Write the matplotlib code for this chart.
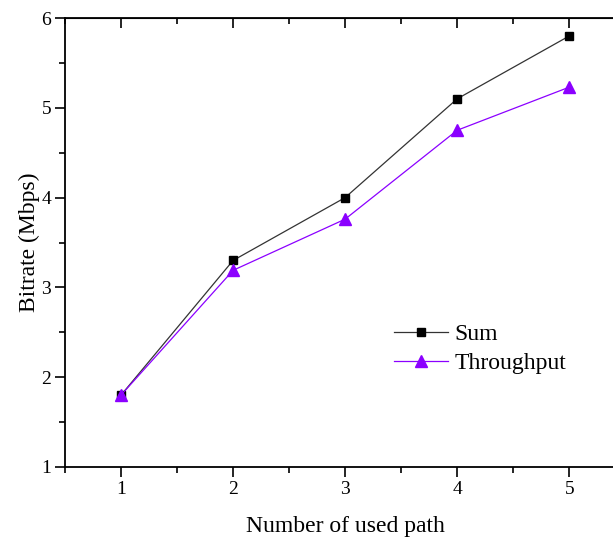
import matplotlib
matplotlib.use("Agg")
import matplotlib.pyplot as plt
from matplotlib.ticker import MultipleLocator

# data
paths = [1, 2, 3, 4, 5]
sum_rate = [1.8, 3.3, 4.0, 5.1, 5.8]
throughput = [1.8, 3.19, 3.76, 4.75, 5.23]

plt.rcParams['font.family'] = ['Liberation Serif', 'DejaVu Serif']

fig = plt.figure(figsize=(6.13, 5.38), dpi=100)
ax = fig.add_axes([0.106, 0.132, 0.914, 0.8345])

ax.plot(paths, sum_rate, color="#333333", lw=0.9, marker="s", ms=6,
        mfc="black", mec="black", label="Sum")
ax.plot(paths, throughput, color="#8B00FF", lw=0.9, marker="^", ms=8,
        mfc="#8B00FF", mec="#8B00FF", label="Throughput")

ax.set_xlim(0.5, 5.5)
ax.set_ylim(1, 6)
ax.xaxis.set_major_locator(MultipleLocator(1))
ax.xaxis.set_minor_locator(MultipleLocator(0.5))
ax.yaxis.set_major_locator(MultipleLocator(1))
ax.yaxis.set_minor_locator(MultipleLocator(0.5))

for s in ax.spines.values():
    s.set_linewidth(1.3)
ax.spines['right'].set_visible(False)

ax.tick_params(which='both', direction='out', width=1.2, labelsize=14, top=False)
ax.tick_params(which='major', length=7, pad=3)
ax.tick_params(which='minor', length=4)

# inward ticks on top spine
top = ax.secondary_xaxis('top')
top.set_xticks(paths)
top.xaxis.set_minor_locator(MultipleLocator(0.5))
top.tick_params(which='both', direction='in', width=1.2, labeltop=False)
top.tick_params(which='major', length=7)
top.tick_params(which='minor', length=4)
top.set_xticklabels([])

ax.set_xlabel("Number of used path", fontsize=17, labelpad=13)
ax.set_ylabel("Bitrate (Mbps)", fontsize=17, labelpad=1)

ax.legend(loc="upper left", bbox_to_anchor=(0.55, 0.366), frameon=False,
          fontsize=17, handlelength=2.25, handletextpad=0.3, labelspacing=0.3)

fig.savefig("out.png", dpi=100)
